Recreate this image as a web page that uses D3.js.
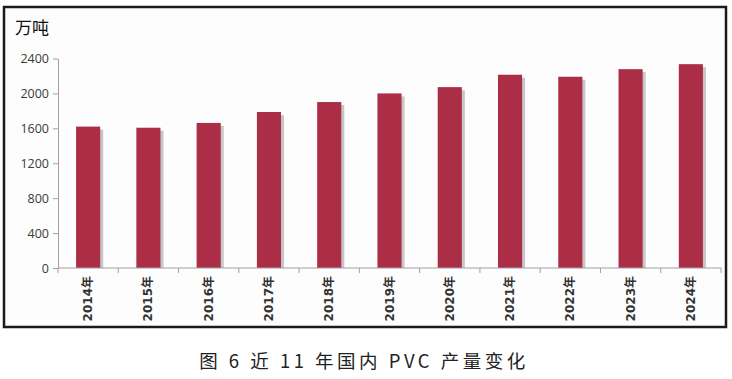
<!DOCTYPE html>
<html lang="zh">
<head>
    <meta charset="UTF-8">
    <title>近11年国内PVC产量变化</title>
    <script src="https://d3js.org/d3.v7.min.js"></script>
    <style>
        body { margin: 0; background: #fff; }
        svg { display: block; }
        .ytick text { font-family: "Open Sans", "DejaVu Sans", sans-serif; font-size: 12.5px; fill: #3a3a3a; }
        .xtick text { font-family: "DejaVu Sans", "Noto Sans CJK SC", sans-serif; font-size: 12px; font-weight: bold; fill: #333; }
        .domain, .tick line { stroke: #a0a0a0; }
    </style>
</head>
<body>
    <svg id="svg" width="732" height="379"></svg>
    <script>
        // chart data
        const years = ["2014年", "2015年", "2016年", "2017年", "2018年", "2019年",
                       "2020年", "2021年", "2022年", "2023年", "2024年"];
        const output = [1620, 1607, 1662, 1787, 1901, 2000, 2072, 2214, 2191, 2278, 2335];
        const yTicks = [0, 400, 800, 1200, 1600, 2000, 2400];

        const svg = d3.select("#svg");

        // outer frame
        svg.append("rect")
            .attr("x", 4).attr("y", 7)
            .attr("width", 722).attr("height", 320)
            .attr("fill", "#fdfdfd")
            .attr("stroke", "#1a1a1a")
            .attr("stroke-width", 2.5);

        const x = d3.scaleBand().domain(years).range([58, 721]).paddingInner(0.6).paddingOuter(0.3);
        const y = d3.scaleLinear().domain([0, 2400]).range([268, 58.5]);

        // bar shadows
        svg.append("g").selectAll("rect")
            .data(output)
            .enter().append("rect")
            .attr("x", (d, i) => x(years[i]) + 3)
            .attr("y", d => y(d) + 3)
            .attr("width", x.bandwidth())
            .attr("height", d => y(0) - y(d) - 3)
            .attr("fill", "#b8b8b8")
            .attr("opacity", 0.8);

        // bars
        svg.append("g").selectAll("rect")
            .data(output)
            .enter().append("rect")
            .attr("x", (d, i) => x(years[i]))
            .attr("y", d => y(d))
            .attr("width", x.bandwidth())
            .attr("height", d => y(0) - y(d))
            .attr("fill", "#ab2d46");

        // y axis
        svg.append("g")
            .attr("class", "ytick")
            .attr("transform", "translate(58,0)")
            .call(d3.axisLeft(y).tickValues(yTicks).tickFormat(d3.format("d"))
                .tickSize(5).tickPadding(4).tickSizeOuter(0));

        // x axis with ticks between categories
        const xAxis = svg.append("g")
            .attr("class", "xtick")
            .attr("transform", "translate(0,268)");
        xAxis.append("line")
            .attr("class", "domain")
            .attr("x1", 58).attr("x2", 721);
        xAxis.selectAll(".sep")
            .data(d3.range(years.length + 1))
            .enter().append("line")
            .attr("class", "sep")
            .attr("x1", i => 58 + i * (663 / years.length))
            .attr("x2", i => 58 + i * (663 / years.length))
            .attr("y1", 0).attr("y2", 5)
            .attr("stroke", "#a0a0a0");
        xAxis.selectAll("text")
            .data(years)
            .enter().append("text")
            .attr("transform", d => `translate(${x(d) + x.bandwidth() / 2 + 4},8) rotate(-90)`)
            .attr("text-anchor", "end")
            .text(d => d);

        // unit label
        svg.append("text")
            .attr("x", 15).attr("y", 34)
            .attr("font-family", "Noto Sans CJK SC")
            .attr("font-size", 17)
            .attr("fill", "#111")
            .text("万吨");

        // caption
        svg.append("text")
            .attr("x", 364).attr("y", 368)
            .attr("text-anchor", "middle")
            .attr("font-family", "Noto Sans CJK SC")
            .attr("font-size", 18.5)
            .attr("letter-spacing", 3.5)
            .attr("fill", "#222")
            .text("图 6 近 11 年国内 PVC 产量变化");
    </script>
</body>
</html>
